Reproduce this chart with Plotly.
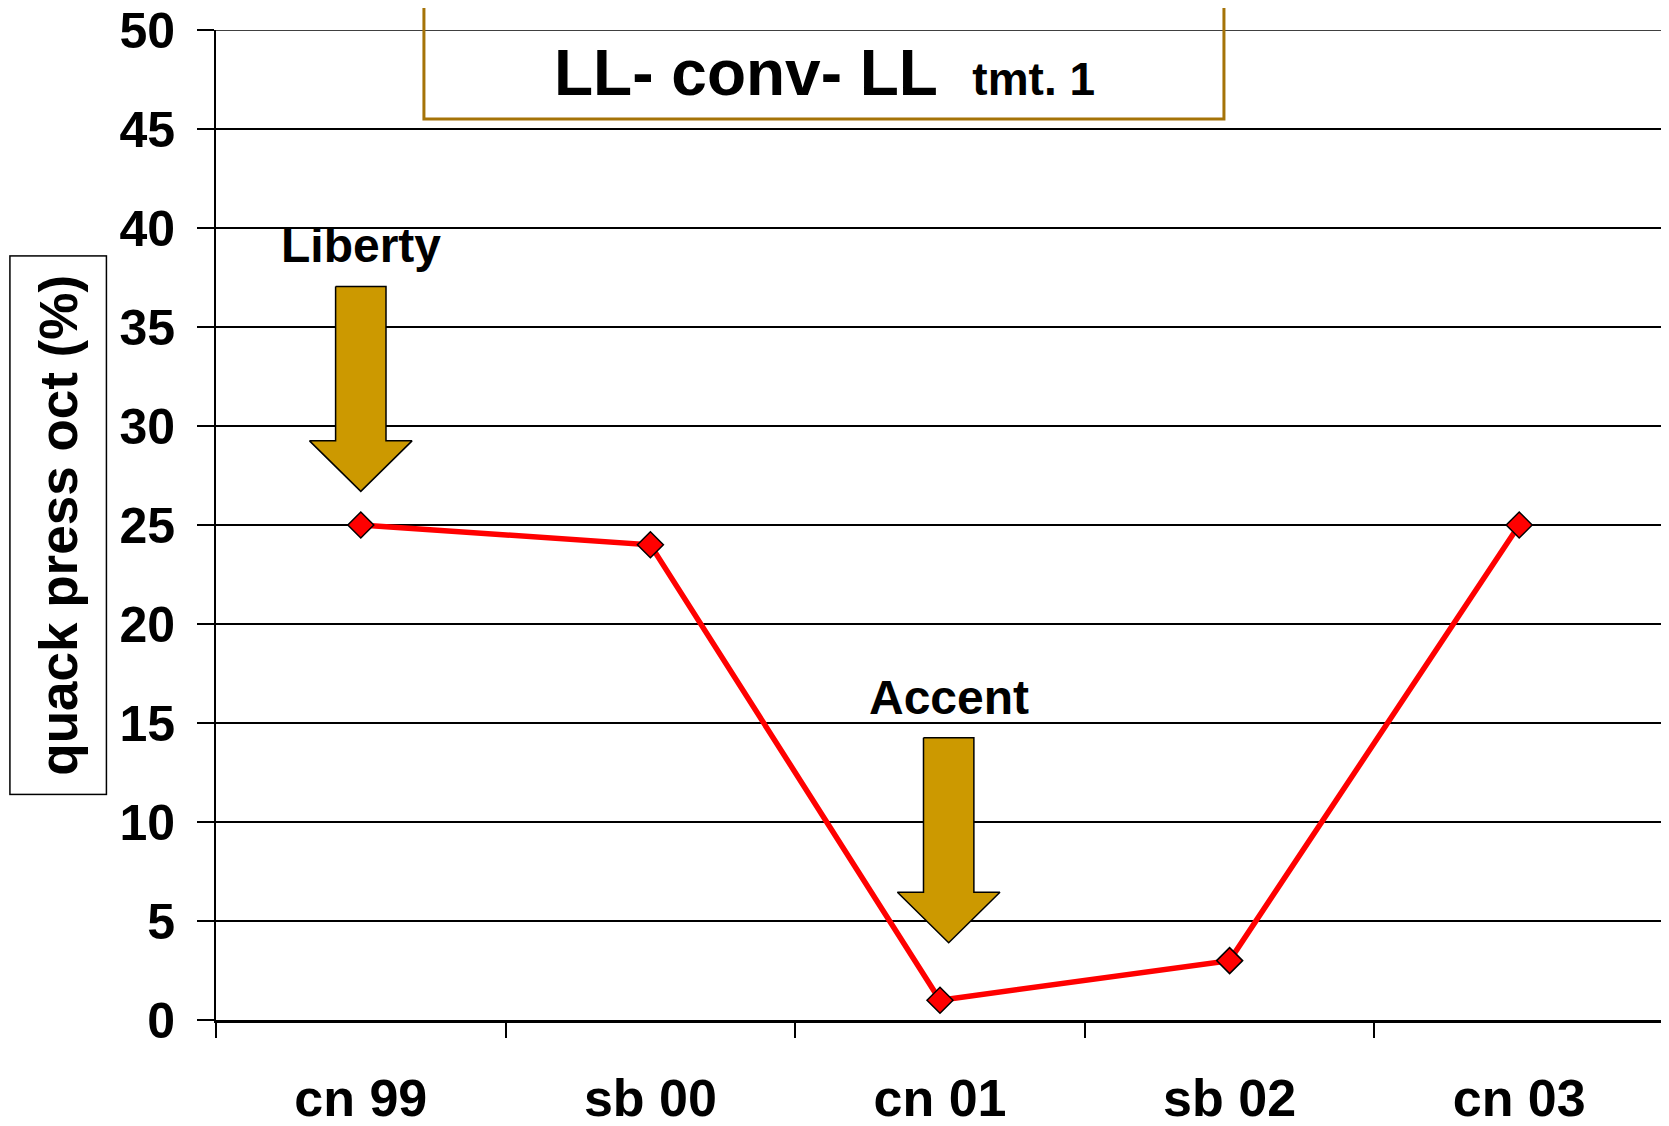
import plotly.graph_objects as go

# ---- data ----
categories = ["cn 99", "sb 00", "cn 01", "sb 02", "cn 03"]
quack_press = [25, 24, 1, 3, 25]
y_ticks = [0, 5, 10, 15, 20, 25, 30, 35, 40, 45, 50]

arrow_labels = ["Liberty", "Accent"]
arrow_x = [0.0, 2.03]          # category position of the arrow
arrow_tip_y = [26.7, 3.9]      # value where the arrow tip points

title_main = "LL- conv- LL"
title_sub = "tmt. 1"
y_title = "quack press oct (%)"

# ---- style constants ----
FONT = "Liberation Sans, Arial, sans-serif"
ARROW_LEN = 10.35
ARROW_HEAD_LEN = 2.55
ARROW_SHAFT_HALF = 0.087
ARROW_HEAD_HALF = 0.177
PAGE_OFFSET = 8   # default body margin of the html page

x_pos = list(range(len(categories)))
boundaries = [i - 0.5 for i in range(len(categories) + 1)]

fig = go.Figure()

# arrows (filled polygons anchored at category position / value)
for lbl, ax_, tip in zip(arrow_labels, arrow_x, arrow_tip_y):
    head = tip + ARROW_HEAD_LEN
    top = tip + ARROW_LEN
    xs = [ax_ - ARROW_SHAFT_HALF, ax_ + ARROW_SHAFT_HALF, ax_ + ARROW_SHAFT_HALF,
          ax_ + ARROW_HEAD_HALF, ax_, ax_ - ARROW_HEAD_HALF, ax_ - ARROW_SHAFT_HALF,
          ax_ - ARROW_SHAFT_HALF]
    ys = [top, top, head, head, tip, head, head, top]
    fig.add_trace(go.Scatter(x=xs, y=ys, mode="lines", fill="toself",
                             fillcolor="#CC9900", line=dict(color="black", width=1.5),
                             hoverinfo="skip", showlegend=False))
    fig.add_annotation(x=ax_, y=top, xref="x", yref="y", text=f"<b>{lbl}</b>",
                       showarrow=False, yanchor="bottom", xanchor="center", yshift=12,
                       font=dict(family=FONT, size=48, color="black"))

# data line
fig.add_trace(go.Scatter(
    x=x_pos, y=quack_press, mode="lines+markers",
    line=dict(color="#FF0000", width=5.5),
    marker=dict(symbol="diamond", size=20, color="#FF0000",
                line=dict(color="black", width=1.5)),
    showlegend=False))

fig.update_xaxes(
    range=[-0.5, len(categories) - 0.5], automargin=False,
    tickmode="array", tickvals=x_pos, ticktext=categories,
    ticks="", showgrid=False, zeroline=False,
    showline=True, linecolor="black", linewidth=3,
    tickfont=dict(family=FONT, size=52, color="black", weight="bold"),
    ticklabelstandoff=31, ticklabeloverflow="allow",
    minor=dict(tickmode="array", tickvals=boundaries, ticks="outside",
               ticklen=15, tickwidth=1.5, tickcolor="black", showgrid=False),
)
fig.update_yaxes(
    range=[0, 50], automargin=False, tickmode="array", tickvals=y_ticks,
    ticks="outside", ticklen=17, tickwidth=1.5, tickcolor="black",
    showgrid=True, gridcolor="black", gridwidth=1.5,
    zeroline=False, showline=True, linecolor="black", linewidth=2, mirror=True,
    tickfont=dict(family=FONT, size=50, color="black", weight="bold"),
    ticklabelstandoff=12, ticklabeloverflow="allow",
)

# top gridline (at the highest tick), hidden by plotly at the plot edge
fig.add_shape(type="line", xref="paper", yref="y", x0=0, x1=1,
              y0=y_ticks[-1], y1=y_ticks[-1], line=dict(color="black", width=1.5))

# title box and title
fig.add_shape(type="rect", xref="paper", yref="paper",
              x0=0.1436, x1=0.6961, y0=0.910, y1=1.06,
              line=dict(color="#A57308", width=3), fillcolor="rgba(0,0,0,0)")
fig.add_annotation(xref="paper", yref="paper", x=0.42, y=0.9566,
                   text=f"<b>{title_main}  <span style='font-size:46px'>{title_sub}</span></b>",
                   showarrow=False, xanchor="center", yanchor="middle",
                   font=dict(family=FONT, size=64, color="black"))

# boxed y-axis title
fig.add_annotation(xref="paper", yref="paper", x=-0.109, y=0.5,
                   text=f"<b>{y_title}</b>", textangle=-90, showarrow=False,
                   xanchor="center", yanchor="middle",
                   bordercolor="black", borderwidth=1.5, borderpad=18,
                   bgcolor="white",
                   font=dict(family=FONT, size=53, color="black"))

fig.update_layout(
    width=1669 - PAGE_OFFSET, height=1126 - PAGE_OFFSET,
    margin=dict(l=216 - PAGE_OFFSET, r=5, t=30 - PAGE_OFFSET, b=106, autoexpand=False),
    paper_bgcolor="white", plot_bgcolor="white",
    font=dict(family=FONT, color="black"),
)

fig.write_html("out.html")
